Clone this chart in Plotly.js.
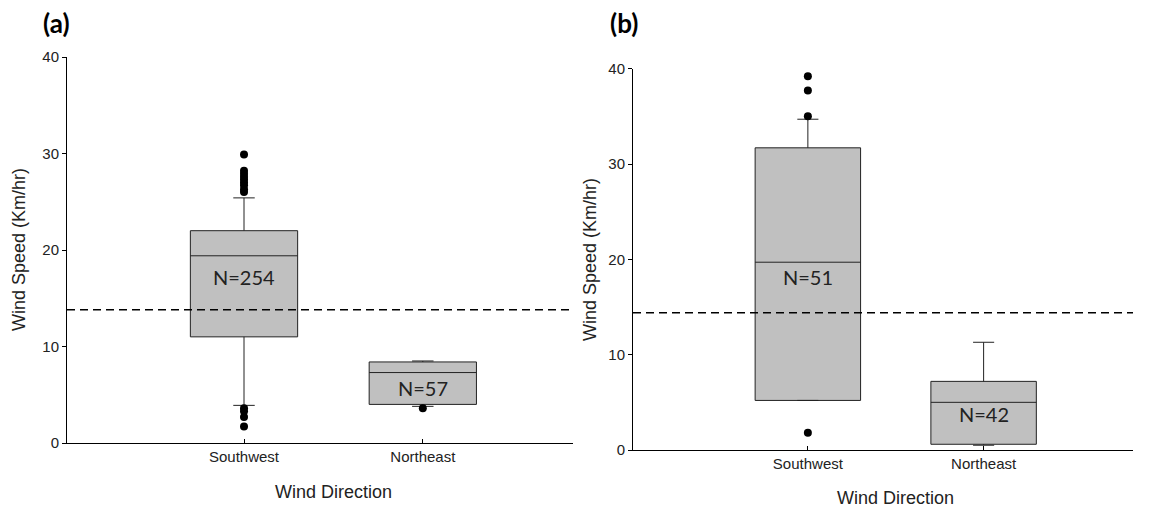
<!DOCTYPE html>
<html>
<head>
<meta charset="utf-8">
<script src="https://cdn.plot.ly/plotly-3.0.1.min.js"></script>
<style>html,body{margin:0;padding:0;background:#fff;}#chart{width:1154px;height:510px;}</style>
</head>
<body>
<div id="chart"></div>
<script>
// ---- Data ----
var categories = ['Southwest', 'Northeast'];

// Panel (a)
var aLowerFence = [3.9, 3.8];
var aQ1 = [11.0, 4.0];
var aMedian = [19.4, 7.3];
var aQ3 = [22.0, 8.4];
var aUpperFence = [25.4, 8.5];
var aOutlierCats = ['Southwest','Southwest','Southwest','Southwest','Southwest','Southwest','Southwest','Southwest','Southwest',
                    'Southwest','Southwest','Southwest','Southwest','Northeast'];
var aOutlierVals = [29.9, 28.2, 27.9, 27.6, 27.3, 27.0, 26.7, 26.3, 26.0,
                    3.6, 3.3, 2.7, 1.7, 3.6];
var aCounts = ['N=254', 'N=57'];
var aCountPos = [17.2, 5.7];
var aReference = 13.8;

// Panel (b)
var bLowerFence = [5.2, 0.5];
var bQ1 = [5.2, 0.6];
var bMedian = [19.7, 5.0];
var bQ3 = [31.7, 7.2];
var bUpperFence = [34.7, 11.3];
var bOutlierCats = ['Southwest','Southwest','Southwest','Southwest'];
var bOutlierVals = [39.2, 37.7, 35.0, 1.8];
var bCounts = ['N=51', 'N=42'];
var bCountPos = [18.1, 3.8];
var bReference = 14.4;

var yTicks = [0, 10, 20, 30, 40];

// ---- Styles ----
var W = 1154, H = 510;
var sansFamily = 'Arial, "Liberation Sans", Helvetica, sans-serif';
var axisFont = {family: sansFamily, size: 15, color: '#222'};
var titleFont = {family: sansFamily, size: 18, color: '#222'};
var countFont = {family: 'Lato, "Open Sans", sans-serif', size: 20, color: '#222'};
var panelFont = {family: 'Lato, "Open Sans", sans-serif', size: 26, color: '#000', weight: 'bold'};

function boxTrace(xa, ya, lf, q1, med, q3, uf) {
  return {
    type: 'box', xaxis: xa, yaxis: ya,
    x: categories, q1: q1, median: med, q3: q3, lowerfence: lf, upperfence: uf,
    width: 0.6, whiskerwidth: 0.2, boxpoints: false,
    fillcolor: '#c0c0c0', line: {color: '#222', width: 1},
    showlegend: false, hoverinfo: 'skip'
  };
}
function outlierTrace(xa, ya, cats, vals) {
  return {
    type: 'scatter', mode: 'markers', xaxis: xa, yaxis: ya,
    x: cats, y: vals, marker: {color: '#000', size: 8},
    showlegend: false, hoverinfo: 'skip'
  };
}

var data = [
  boxTrace('x', 'y', aLowerFence, aQ1, aMedian, aQ3, aUpperFence),
  outlierTrace('x', 'y', aOutlierCats, aOutlierVals),
  boxTrace('x2', 'y2', bLowerFence, bQ1, bMedian, bQ3, bUpperFence),
  outlierTrace('x2', 'y2', bOutlierCats, bOutlierVals)
];

function xAxis(domain, range, anchor) {
  return {
    domain: domain, anchor: anchor, type: 'category',
    categoryorder: 'array', categoryarray: categories,
    range: range, showline: true, linecolor: '#000', linewidth: 1,
    ticks: 'inside', ticklen: 4, tickcolor: '#000', showgrid: false, zeroline: false,
    tickfont: axisFont
  };
}
function yAxis(domain, anchor) {
  return {
    domain: domain, anchor: anchor, range: [0, 40],
    tickvals: yTicks, ticktext: yTicks.map(String),
    showline: true, linecolor: '#000', linewidth: 1,
    ticks: 'outside', ticklen: 4, tickcolor: '#000', showgrid: false, zeroline: false,
    tickfont: axisFont
  };
}

var annotations = [];
function addCounts(xref, yref, labels, pos) {
  for (var i = 0; i < categories.length; i++) {
    annotations.push({xref: xref, yref: yref, x: categories[i], y: pos[i], text: labels[i],
      showarrow: false, font: countFont, xanchor: 'center', yanchor: 'middle'});
  }
}
addCounts('x', 'y', aCounts, aCountPos);
addCounts('x2', 'y2', bCounts, bCountPos);

function note(xref, x, y, text, font, angle) {
  annotations.push({xref: xref, yref: 'paper', x: x, y: y, text: text, showarrow: false, font: font,
    xanchor: 'center', yanchor: 'middle', textangle: angle || 0});
}
note('paper', 19 / W, 1 - 250 / H, 'Wind Speed (Km/hr)', titleFont, -90);
note('paper', 590 / W, 1 - 260 / H, 'Wind Speed (Km/hr)', titleFont, -90);
note('x', 0.5, 1 - 492 / H, 'Wind Direction', titleFont);
note('x2', 0.5, 1 - 498 / H, 'Wind Direction', titleFont);
note('paper', 56 / W, 1 - 23 / H, '<b>(a)</b>', panelFont);
note('paper', 624 / W, 1 - 23 / H, '<b>(b)</b>', panelFont);

var shapes = [
  {type: 'line', xref: 'x domain', yref: 'y', x0: 0, x1: 1, y0: aReference, y1: aReference,
   line: {color: '#000', width: 1.5, dash: '8px,5px'}},
  {type: 'line', xref: 'x2 domain', yref: 'y2', x0: 0, x1: 1, y0: bReference, y1: bReference,
   line: {color: '#000', width: 1.5, dash: '8px,5px'}}
];

var layout = {
  width: W, height: H,
  margin: {l: 0, r: 0, t: 0, b: 0},
  paper_bgcolor: '#fff', plot_bgcolor: 'rgba(0,0,0,0)',
  showlegend: false,
  font: {family: sansFamily},
  xaxis: xAxis([67 / W, 573 / W], [-0.99, 1.84], 'y'),
  yaxis: yAxis([1 - 443 / H, 1 - 57 / H], 'x'),
  xaxis2: xAxis([633 / W, 1133 / W], [-0.995, 1.85], 'y2'),
  yaxis2: yAxis([1 - 450 / H, 1 - 68.7 / H], 'x2'),
  annotations: annotations,
  shapes: shapes
};

Plotly.newPlot('chart', data, layout, {displayModeBar: false, staticPlot: true});
</script>
</body>
</html>
